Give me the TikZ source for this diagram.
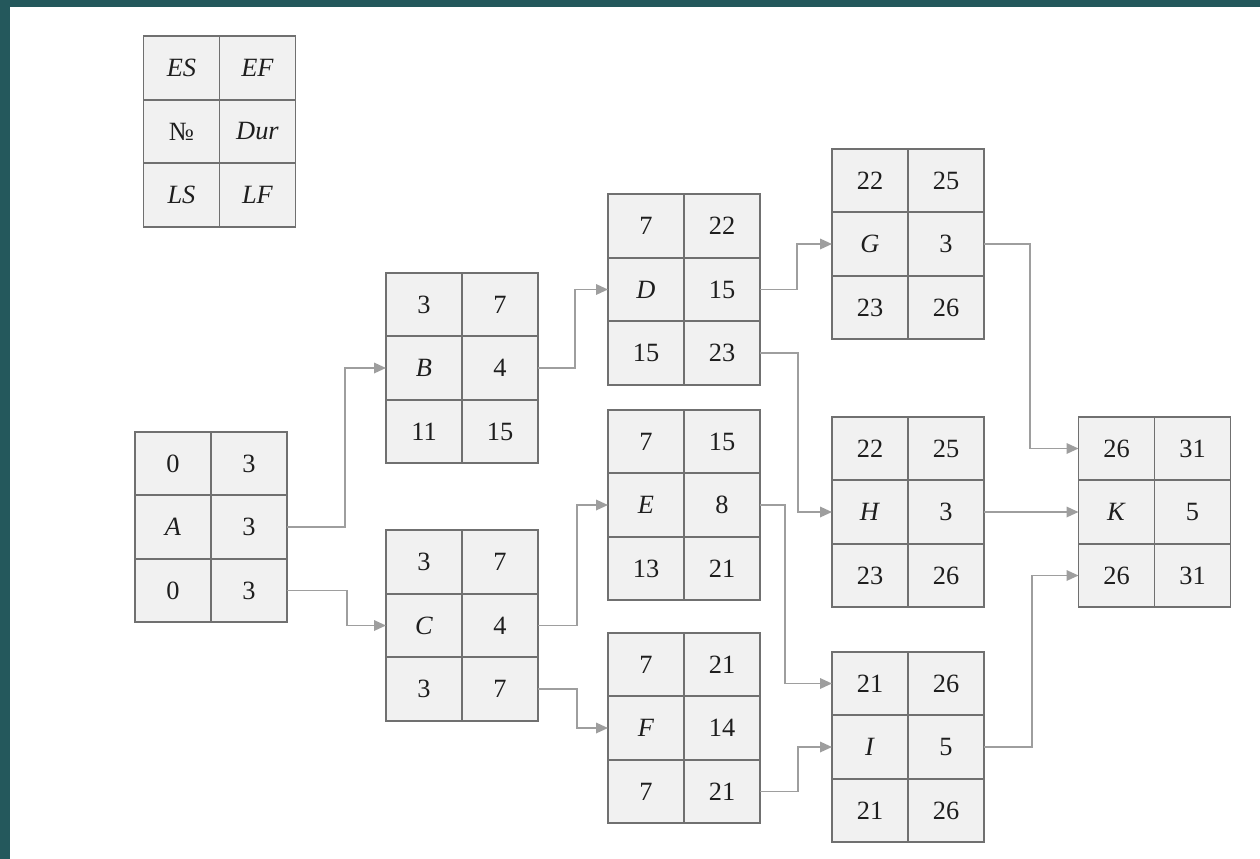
\documentclass[tikz,border=0pt]{standalone}
\usepackage{fontspec}
\setmainfont{Liberation Serif}
\usetikzlibrary{arrows.meta,positioning}
\definecolor{netcellfill}{RGB}{241,241,241}
\definecolor{netcelldraw}{RGB}{112,112,112}
\definecolor{netarrowgray}{RGB}{158,158,158}
\definecolor{nettext}{RGB}{30,30,30}
\definecolor{slideteal}{RGB}{36,88,92}
\tikzset{
  net cell/.style={
    draw=netcelldraw,
    fill=netcellfill,
    line width=1.1pt,
    minimum width=1.52cm,
    minimum height=1.27cm,
    inner sep=0pt,
    outer sep=0pt,
    text=nettext,
    font=\fontsize{15}{17}\selectfont,
  },
  net arrow/.style={
    -{Triangle[length=2.4mm,width=2.1mm]},
    line width=1pt,
    draw=netarrowgray,
  },
}
% one activity: name, centre, ES, EF, No, Dur, LS, LF
\newcommand{\netbox}[8]{%
  \node[net cell, anchor=east] (#1-no) at (#2) {#5};
  \node[net cell, anchor=west] (#1-dur) at (#2) {#6};
  \node[net cell, above=0pt of #1-no] (#1-es) {#3};
  \node[net cell, above=0pt of #1-dur] (#1-ef) {#4};
  \node[net cell, below=0pt of #1-no] (#1-ls) {#7};
  \node[net cell, below=0pt of #1-dur] (#1-lf) {#8};
}

\begin{document}
\begin{tikzpicture}[x=1cm,y=1cm]
  \useasboundingbox (0,0) rectangle (25.2,-17.18);
  \fill[white] (0,0) rectangle (25.2,-17.18);
  \fill[slideteal] (0,0) rectangle (25.2,-0.15);
  \fill[slideteal] (0,0) rectangle (0.2,-17.18);

  % legend
  \netbox{L}{4.39,-2.63}{\textit{ES}}{\textit{EF}}{№}{\textit{Dur}}{\textit{LS}}{\textit{LF}}

  % activities
  \netbox{A}{4.22,-10.54}{0}{3}{\textit{A}}{3}{0}{3}
  \netbox{B}{9.24,-7.36}{3}{7}{\textit{B}}{4}{11}{15}
  \netbox{C}{9.24,-12.51}{3}{7}{\textit{C}}{4}{3}{7}
  \netbox{D}{13.68,-5.79}{7}{22}{\textit{D}}{15}{15}{23}
  \netbox{E}{13.68,-10.10}{7}{15}{\textit{E}}{8}{13}{21}
  \netbox{F}{13.68,-14.56}{7}{21}{\textit{F}}{14}{7}{21}
  \netbox{G}{18.16,-4.88}{22}{25}{\textit{G}}{3}{23}{26}
  \netbox{H}{18.16,-10.24}{22}{25}{\textit{H}}{3}{23}{26}
  \netbox{I}{18.16,-14.94}{21}{26}{\textit{I}}{5}{21}{26}
  \netbox{K}{23.09,-10.24}{26}{31}{\textit{K}}{5}{26}{31}

  % links
  \draw[net arrow] (A-dur.east) -- ++(1.16,0) |- (B-no.west);
  \draw[net arrow] (A-lf.east) -- ++(1.2,0) |- (C-no.west);
  \draw[net arrow] (B-dur.east) -- ++(0.74,0) |- (D-no.west);
  \draw[net arrow] (C-dur.east) -- ++(0.78,0) |- (E-no.west);
  \draw[net arrow] (C-lf.east) -- ++(0.78,0) |- (F-no.west);
  \draw[net arrow] (D-dur.east) -- ++(0.74,0) |- (G-no.west);
  \draw[net arrow] (D-lf.east) -- ++(0.76,0) |- (H-no.west);
  \draw[net arrow] (E-dur.east) -- ++(0.5,0) |- (I-es.west);
  \draw[net arrow] (F-lf.east) -- ++(0.76,0) |- (I-no.west);
  \draw[net arrow] (G-dur.east) -- ++(0.92,0) |- (K-es.west);
  \draw[net arrow] (H-dur.east) -- (K-no.west);
  \draw[net arrow] (I-dur.east) -- ++(0.96,0) |- (K-ls.west);
\end{tikzpicture}
\end{document}
